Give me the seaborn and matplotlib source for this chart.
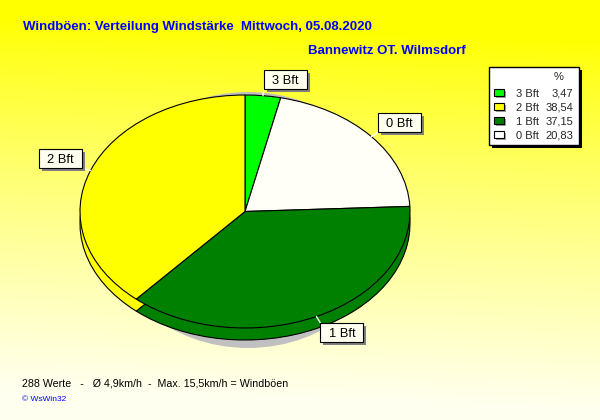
import numpy as np
import matplotlib
matplotlib.use('Agg')
import matplotlib.pyplot as plt
import seaborn as sns
from matplotlib.patches import Rectangle, Ellipse

# ---- data ----
slice_labels = ['3 Bft', '0 Bft', '1 Bft', '2 Bft']      # clockwise from 12 o'clock
slice_values = [3.47, 20.83, 37.15, 38.54]
slice_colors = ['#00FF00', '#FFFFF7', '#008000', '#FFFF00']
legend_labels = ['3 Bft', '2 Bft', '1 Bft', '0 Bft']
legend_values = [3.47, 38.54, 37.15, 20.83]
legend_colors = ['#00FF00', '#FFFF00', '#008000', '#FFFFFF']
title = 'Windböen: Verteilung Windstärke  Mittwoch, 05.08.2020'
subtitle = 'Bannewitz OT. Wilmsdorf'
footer = '288 Werte   -   Ø 4,9km/h  -  Max. 15,5km/h = Windböen'
credit = '© WsWin32'

sns.set_style('white')
plt.rcParams['font.family'] = ['Liberation Sans', 'DejaVu Sans']

W, H = 600, 420
fig = plt.figure(figsize=(6, 4.2), dpi=100)

# ---- background gradient ----
bg = fig.add_axes([0, 0, 1, 1], zorder=0)
yy = np.linspace(0, H, H)[:, None]
xx = np.linspace(0, 1, W)[None, :]
t = np.clip((yy - 30) / 370 + 0.06 * (0.5 - xx), 0, 1) ** 0.85
blue = 240 * t / 255
img = np.dstack([np.ones_like(blue), np.ones_like(blue), blue])
bg.imshow(img, aspect='auto', extent=(0, W, H, 0))
bg.set_xlim(0, W); bg.set_ylim(H, 0)
bg.axis('off')

# ---- pie (elliptical, pseudo 3D) ----
cx, cy, rx, ry, depth = 245, 211.5, 165, 116.5, 12
pa = fig.add_axes([0, 0, 1, 1], zorder=1)
d = depth / ry
pa.add_patch(Ellipse(((248 - cx) / rx, -(220 - cy) / ry), 2 * 145 / rx, 2 * 128 / ry,
                     facecolor='#C0C0C0', edgecolor='none', zorder=0.5))
for k in range(depth):
    pa.pie(slice_values, colors=slice_colors, startangle=90, counterclock=False,
           center=(0, -d + k / ry), radius=1,
           wedgeprops=dict(linewidth=0, edgecolor='none', zorder=1))
pa.pie(slice_values, colors=slice_colors, startangle=90, counterclock=False,
       center=(0, -d), radius=1,
       wedgeprops=dict(linewidth=0.8, edgecolor='black', zorder=2))
pa.pie(slice_values, colors=slice_colors, startangle=90, counterclock=False,
       center=(0, 0), radius=1,
       wedgeprops=dict(linewidth=0.8, edgecolor='black', zorder=3))
pa.set_aspect('auto')
pa.set_xlim(-cx / rx, (W - cx) / rx)
pa.set_ylim(-(H - cy) / ry, cy / ry)
pa.axis('off')

# ---- overlay in pixel coordinates ----
ov = fig.add_axes([0, 0, 1, 1], zorder=5)
ov.set_xlim(0, W); ov.set_ylim(H, 0)
ov.axis('off')

# slice labels with leader lines
cum = np.cumsum(slice_values)
bw, bh = 43, 19
for lab, v, c in zip(slice_labels, slice_values, cum):
    th = np.deg2rad(360 * (c - v / 2) / 100)
    ex, ey = cx + rx * np.sin(th), cy - ry * np.cos(th)
    axp, ayp = ex + 9 * np.sin(th), ey - 7 * np.cos(th)
    ov.plot([ex, axp], [ey, ayp], color='white', lw=1, zorder=6)
    left = axp if np.sin(th) >= 0 else axp - bw
    top = ayp - bh if np.cos(th) > 0 else ayp
    ov.add_patch(Rectangle((left + 3, top + 3), bw, bh, facecolor='#808080',
                           edgecolor='none', zorder=6))
    ov.add_patch(Rectangle((left, top), bw, bh, facecolor='#FFFFF0',
                           edgecolor='black', lw=0.8, zorder=7))
    ov.text(left + bw / 2, top + bh / 2 + 4.6, lab, ha='center', va='baseline',
            fontsize=9.3, color='black', zorder=8)

# legend
lx0, ly0, lx1, ly1 = 489, 67, 579, 145
ov.add_patch(Rectangle((lx0 + 3, ly0 + 3), lx1 - lx0, ly1 - ly0, facecolor='black',
                       edgecolor='none', zorder=6))
ov.add_patch(Rectangle((lx0, ly0), lx1 - lx0, ly1 - ly0, facecolor='white',
                       edgecolor='black', lw=1, zorder=7))
ov.text(559, 80, '%', ha='center', va='baseline', fontsize=8, zorder=8)
for i, (lab, val, col) in enumerate(zip(legend_labels, legend_values, legend_colors)):
    base = 97 + 14 * i
    ov.add_patch(Rectangle((496, base - 6), 10, 7, facecolor='#A0A0A0',
                           edgecolor='none', zorder=8))
    ov.add_patch(Rectangle((494, base - 8), 10, 7, facecolor=col,
                           edgecolor='black', lw=0.8, zorder=9))
    ov.text(516, base, lab, ha='left', va='baseline', fontsize=8, zorder=9)
    ov.text(573, base, f'{val:.2f}'.replace('.', ','), ha='right', va='baseline',
            fontsize=8, zorder=9)

# titles and footer
ov.text(23, 30, title, ha='left', va='baseline', fontsize=9.5, fontweight='bold',
        color='#0000FF', zorder=9)
ov.text(466, 54, subtitle, ha='right', va='baseline', fontsize=9.5, fontweight='bold',
        color='#0000FF', zorder=9)
ov.text(22, 386, footer, ha='left', va='baseline', fontsize=7.7, color='black', zorder=9)
ov.text(22, 401, credit, ha='left', va='baseline', fontsize=6, color='#0000FF', zorder=9)

fig.savefig('out.png', dpi=100)
